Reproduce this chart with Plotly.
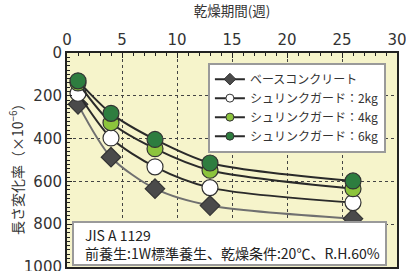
import plotly.graph_objects as go

weeks = [1, 4, 8, 13, 26]
base = [240, 487, 634, 713, 774]
sg2 = [188, 397, 532, 629, 699]
sg4 = [140, 326, 447, 548, 634]
sg6 = [130, 282, 404, 514, 598]
names = ["ベースコンクリート", "シュリンクガード：2kg", "シュリンクガード：4kg", "シュリンクガード：6kg"]
x_ticks = [0, 5, 10, 15, 20, 25, 30]
y_ticks = [0, 200, 400, 600, 800, 1000]

TICKFONT = "DejaVu Sans, Liberation Sans, Arial"
JP = "Noto Sans CJK JP"

fig = go.Figure()
series = [
    (base, names[0], "#707070", "diamond", "#4a4a4a", 15),
    (sg2, names[1], "#2a2a2a", "circle", "#ffffff", 16),
    (sg4, names[2], "#2a2a2a", "circle", "#8cc43c", 16),
    (sg6, names[3], "#2a2a2a", "circle", "#2e7d3f", 16),
]
for vals, nm, lc, sym, mc, ms in series:
    fig.add_trace(go.Scatter(
        x=weeks, y=vals, name=nm, mode="lines+markers", showlegend=False,
        line=dict(color=lc, width=2, shape="spline", smoothing=0.8),
        marker=dict(symbol=sym, color=mc, size=ms, line=dict(color="#333333", width=1.2)),
    ))
# legend entries (small symbols as in the reference)
for vals, nm, lc, sym, mc, ms in series:
    fig.add_trace(go.Scatter(
        x=[None], y=[None], name=nm, mode="lines+markers",
        line=dict(color="#2a2a2a", width=2),
        marker=dict(symbol=sym, color=mc, size=8 if sym == "circle" else 9,
                    line=dict(color="#333333", width=1)),
    ))

fig.update_layout(
    width=406, height=271,
    margin=dict(l=67, r=9, t=53, b=4, autoexpand=False),
    paper_bgcolor="white",
    plot_bgcolor="#f6f4cb",
    font=dict(family=TICKFONT, color="#333333"),
    showlegend=True,
    legend=dict(
        x=0.427, y=0.955, xanchor="left", yanchor="top",
        bgcolor="white", bordercolor="#9a9a9a", borderwidth=2,
        font=dict(size=12, family=JP, color="#333333"),
        tracegroupgap=0, itemwidth=30,
    ),
    xaxis=dict(
        range=[0, 30], side="top", tickvals=x_ticks, automargin=False,
        tickfont=dict(size=15), ticks="inside", ticklen=5, tickcolor="#222",
        ticklabeloverflow="allow",
        showline=True, linecolor="#222", linewidth=2, mirror=True,
        showgrid=True, gridcolor="#444", griddash="dot", gridwidth=1,
        zeroline=False,
        minor=dict(dtick=1, ticks="inside", ticklen=3, tickcolor="#222"),
        title=dict(text="乾燥期間(週)", font=dict(size=13.5, family=JP)),
    ),
    yaxis=dict(
        range=[1000, 0], tickvals=y_ticks, automargin=False,
        tickfont=dict(size=15), ticks="inside", ticklen=5, tickcolor="#222",
        ticklabeloverflow="allow",
        showline=True, linecolor="#222", linewidth=2, mirror=True,
        showgrid=True, gridcolor="#444", griddash="dot", gridwidth=1,
        zeroline=False,
        minor=dict(dtick=20, ticks="inside", ticklen=3, tickcolor="#222"),
    ),
)

fig.add_annotation(xref="paper", yref="paper",
                   x=(16 - 67) / 330, y=(267 - 166) / 214, xanchor="center", yanchor="middle",
                   text="長さ変化率（×10<sup>−6</sup>）", textangle=-90, showarrow=False,
                   font=dict(size=14, family=JP, color="#333333"))

fig.add_shape(type="rect", xref="paper", yref="paper",
              x0=(73 - 67) / 330, x1=(386 - 67) / 330,
              y0=(267 - 265) / 214, y1=(267 - 222) / 214,
              fillcolor="white", line=dict(color="#9a9a9a", width=2), layer="above")
fig.add_annotation(xref="paper", yref="paper",
                   x=(83 - 67) / 330, y=(267 - 244) / 214, xanchor="left", yanchor="middle",
                   text="JIS A 1129<br>前養生:1W標準養生、乾燥条件:20℃、R.H.60%",
                   align="left", showarrow=False,
                   font=dict(size=14, family=JP, color="#222222"))

fig.write_html("out.html", config={"displayModeBar": False},
               post_script="document.body.style.margin='0';")
